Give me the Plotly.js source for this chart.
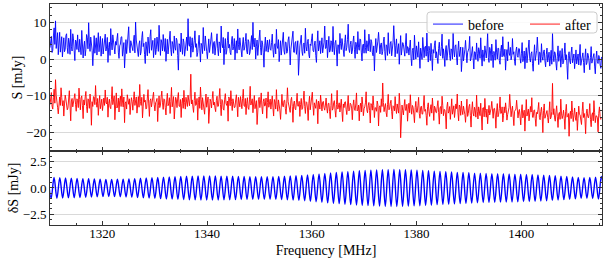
<!DOCTYPE html>
<html>
<head>
<meta charset="utf-8">
<script src="https://cdn.plot.ly/plotly-3.0.1.min.js"></script>
<style>html,body{margin:0;padding:0;background:#fff;}#chart{width:608px;height:261px;}</style>
</head>
<body>
<div id="chart"></div>
<script>
// channel frequency grid of the spectra (MHz)
const specStart = 1310.0;
const specStep = 0.1318;

const before = [
3.1,5.0,6.2,1.8,2.4,6.3,8.5,4.0,10.4,2.9,5.1,7.2,1.2,3.6,7.3,1.9,3.9,6.1,0.6,3.8,5.8,2.0,2.7,6.4,6.9,3.1,1.5,5.7,4.4,1.3,8.1,3.5,2.2,6.9,5.5,2.4,-0.4,5.2,4.8,2.6,
6.6,3.0,1.9,5.4,3.7,1.2,7.8,4.6,0.3,3.3,4.9,0.9,2.6,6.7,5.9,2.8,9.9,4.4,2.1,6.0,4.2,2.4,-1.8,4.9,6.4,1.6,3.0,5.8,1.1,3.9,7.2,2.0,4.5,6.2,0.8,3.7,5.6,1.4,2.9,4.3,
6.8,2.2,3.3,5.9,-0.9,3.1,4.6,1.0,8.3,4.4,2.5,6.6,5.2,2.3,1.4,4.8,3.8,5.5,7.0,1.9,0.2,3.6,4.1,6.0,6.1,0.8,2.8,4.5,-2.4,2.7,5.3,1.5,3.4,6.3,8.8,3.0,1.7,5.0,4.0,2.5,
2.3,4.9,6.5,1.7,10.1,5.2,3.6,2.9,0.7,4.1,5.0,1.1,2.0,5.8,7.5,3.4,4.3,1.3,-1.2,4.7,3.2,0.9,6.0,3.5,1.6,6.2,8.0,2.4,3.5,5.1,0.4,3.8,5.7,1.2,2.6,6.0,4.7,2.1,9.2,3.9,
1.0,5.3,4.4,2.2,6.7,3.8,2.1,5.6,-0.6,2.5,5.4,1.4,3.1,5.9,7.6,2.7,0.9,4.8,4.0,1.6,6.3,3.2,2.4,5.7,5.1,1.0,-3.0,4.2,3.8,2.0,7.1,3.3,1.3,5.5,4.6,0.8,2.7,4.9,6.0,2.3,
11.0,4.0,3.5,6.1,0.5,3.7,5.8,1.9,2.9,5.0,7.7,3.2,4.2,0.7,1.8,5.4,6.5,2.8,-0.8,4.3,3.6,1.5,8.6,3.9,2.3,6.3,4.9,2.0,0.1,4.6,5.5,1.8,3.0,5.2,7.2,2.6,1.5,4.4,4.8,1.1,
2.6,5.1,6.9,2.8,0.9,4.7,4.3,1.7,9.0,4.2,3.1,5.9,-1.5,2.9,5.6,1.3,2.2,5.0,7.4,3.0,4.0,1.8,1.2,4.9,6.2,2.5,3.4,5.6,-0.2,3.3,5.0,1.6,8.2,3.9,2.5,5.8,4.5,1.9,0.6,4.1,
5.9,2.4,3.0,4.8,7.0,2.2,1.4,5.3,4.7,1.2,2.0,4.4,6.4,2.6,10.0,4.0,3.3,5.7,0.0,3.5,5.2,1.0,2.8,4.6,7.9,3.1,1.1,5.0,4.1,1.7,-2.2,3.6,6.0,2.1,3.7,5.2,1.9,4.0,5.3,2.7,
2.4,4.5,6.8,2.6,0.5,3.9,4.2,1.4,8.1,3.6,2.9,5.3,-0.7,2.3,5.0,1.1,3.2,5.4,7.3,2.2,1.3,4.7,4.5,1.6,2.1,5.2,6.1,3.0,-1.6,2.7,3.9,5.1,7.6,1.9,1.8,4.4,4.8,1.3,2.7,5.0,
-4.4,1.8,3.6,4.9,6.5,2.1,1.0,4.0,4.4,1.6,8.4,3.5,2.2,4.8,5.4,1.2,0.3,4.1,3.7,5.5,6.9,2.4,2.0,3.8,4.9,1.0,-0.9,4.3,7.7,2.2,3.3,5.0,1.5,3.4,5.8,1.7,2.8,4.6,9.0,2.9,
3.0,5.2,0.4,3.3,6.2,1.9,2.3,5.0,4.6,2.0,8.9,3.6,1.2,4.4,5.1,2.5,-1.9,3.9,3.8,1.5,7.0,4.2,2.6,5.6,4.3,1.8,0.7,4.5,6.6,2.3,3.2,5.3,9.5,2.8,1.8,4.0,4.9,1.4,2.1,4.7,
6.3,2.7,0.2,4.6,3.9,1.4,7.5,3.2,2.4,5.5,5.3,1.9,-0.5,3.8,4.1,1.6,8.0,3.1,1.6,5.0,3.5,2.2,6.8,4.0,2.0,5.3,4.7,1.7,0.9,3.6,-3.2,2.5,5.6,1.8,3.0,4.9,7.3,2.6,1.4,3.9,
4.4,1.2,2.1,4.7,6.0,2.0,-0.3,3.9,3.6,1.0,7.2,2.8,1.5,4.4,4.8,0.9,2.7,4.6,9.1,2.3,0.6,3.7,5.5,1.5,3.1,4.2,-1.4,2.9,6.4,1.1,2.2,4.5,4.0,2.0,0.8,4.1,7.0,1.6,3.4,3.0,
1.1,3.2,5.2,0.6,-1.8,2.4,3.0,-0.2,6.5,2.7,0.0,3.6,2.6,0.5,4.7,1.4,-2.5,3.0,1.9,-0.1,5.9,2.1,0.4,3.3,3.5,0.8,7.1,2.0,-0.8,3.5,2.3,-0.4,4.3,1.2,-3.1,2.6,1.6,3.8,5.0,0.3,
2.0,0.4,-1.2,2.9,4.6,1.1,0.9,3.4,6.8,0.2,2.8,0.9,-2.0,2.5,3.7,-0.3,1.2,3.1,5.4,1.0,-0.4,2.8,2.5,0.0,7.4,2.2,0.6,3.6,3.9,0.5,-1.6,2.4,4.9,0.7,1.7,3.3,-3.4,1.5,3.2,-0.5,
0.8,2.6,5.1,-0.2,-1.0,1.8,2.7,3.0,6.2,-0.5,0.1,2.3,3.4,0.4,-2.7,2.0,1.9,-0.1,4.4,1.6,-0.6,3.1,2.2,0.2,5.8,1.4,-1.9,2.5,1.3,-0.6,3.6,1.0,0.3,2.8,7.0,0.5,-0.9,3.2,2.4,-0.4,
4.1,1.2,-2.3,2.1,1.5,-0.3,5.3,1.9,0.0,3.0,2.9,-0.4,-1.4,2.4,3.8,0.6,6.1,1.1,0.7,2.7,-3.0,0.8,2.6,-0.5,4.7,1.7,1.0,3.2,-0.2,0.9,5.6,1.3,2.0,-0.6,-1.7,2.2,3.3,1.0,0.5,2.9,
2.8,0.3,-1.1,1.6,4.5,-0.7,0.2,2.2,-2.6,0.9,3.1,-1.0,1.4,2.6,5.2,0.1,-0.8,1.5,2.0,-1.2,-3.3,1.1,3.9,-0.4,0.6,2.4,6.0,0.2,-1.5,1.9,1.8,-0.9,4.2,0.7,-0.3,2.0,2.5,-0.5,-2.1,1.3,
3.0,-0.8,0.1,1.9,-1.9,0.6,2.4,-1.4,7.0,1.2,-0.7,2.0,1.6,-1.1,-3.0,0.8,3.6,-0.6,0.4,2.3,-2.2,0.3,2.9,-1.3,-0.9,1.5,4.4,-0.2,1.2,-1.8,-5.5,0.9,2.0,-0.5,-1.3,1.7,3.3,-1.0,0.0,1.4,
-2.6,0.9,2.5,-1.3,0.3,1.4,-1.6,0.7,4.0,-1.7,-0.4,1.1,1.7,-0.9,-3.7,0.4,2.8,-1.5,-1.0,1.6,0.9,-0.8,-2.9,0.5,3.4,-1.1,-0.2,1.3,1.5,-1.9,-4.0,0.2,2.2,-0.7,-1.2,1.0,0.5,-1.6,-2.5,0.6
];

const after = [
-12.4,-10.2,-9.1,-12.8,-13.6,-10.5,-8.2,-12.0,-5.6,-9.9,-11.0,-13.1,-14.9,-11.2,-10.3,-12.6,-7.8,-10.4,-12.7,-11.3,-15.5,-12.2,-9.8,-10.9,-11.9,-13.8,-13.3,-10.1,-8.6,-12.5,-16.8,-11.4,-10.7,-13.0,-12.1,-10.6,-9.4,-12.3,-14.2,-10.8,
-11.3,-13.2,-7.9,-11.0,-13.8,-10.6,-10.0,-12.7,-16.2,-11.1,-12.5,-10.3,-8.8,-12.9,-14.6,-10.8,-11.1,-13.4,-9.5,-11.9,-18.0,-11.6,-12.9,-10.2,-10.4,-12.4,-7.2,-11.5,-13.1,-10.7,-15.3,-12.1,-9.9,-13.5,-11.7,-10.9,-14.0,-11.8,-10.6,-12.6,
-8.4,-11.8,-12.2,-10.4,-15.8,-12.1,-10.9,-13.0,-13.5,-10.9,-7.5,-12.4,-11.4,-10.0,-16.5,-11.7,-9.2,-13.3,-12.8,-10.6,-14.4,-11.2,-10.1,-12.9,-8.1,-11.4,-13.0,-10.3,-17.3,-12.0,-11.6,-13.6,-9.7,-11.1,-12.3,-10.8,-15.1,-12.5,-10.5,-11.6,
-13.9,-11.0,-8.9,-12.6,-11.8,-10.3,-14.7,-11.9,-10.2,-13.1,-6.9,-11.5,-12.6,-10.4,-16.0,-12.8,-9.6,-11.7,-11.2,-13.6,-13.4,-10.6,-8.3,-12.2,-15.6,-11.3,-10.8,-13.0,-12.0,-10.1,-9.0,-12.4,-14.1,-11.8,-11.5,-10.7,-17.0,-12.7,-10.0,-13.2,
-12.5,-10.3,-8.7,-11.9,-13.7,-10.8,-11.0,-13.2,-15.2,-11.4,-9.3,-12.7,-12.2,-10.5,-14.8,-11.6,-7.7,-13.0,-11.9,-10.2,-16.3,-12.3,-10.4,-11.1,-13.2,-10.6,-9.1,-12.8,-12.9,-11.0,-15.9,-12.1,-10.6,-13.4,-8.5,-11.8,-13.6,-10.4,-11.4,-12.9,
-9.8,-11.5,-12.7,-10.6,-4.1,-12.2,-11.1,-13.0,-14.5,-11.3,-9.0,-12.6,-12.4,-10.7,-16.6,-11.9,-10.3,-13.4,-7.6,-11.0,-13.8,-10.5,-11.6,-12.8,-15.0,-11.4,-9.5,-13.1,-12.1,-10.3,-17.5,-12.2,-10.9,-11.6,-13.3,-10.8,-8.8,-12.5,-11.7,-13.3,
-14.3,-11.2,-10.1,-12.9,-12.8,-10.6,-8.0,-12.4,-15.4,-11.0,-11.3,-13.6,-13.9,-10.9,-9.4,-12.1,-12.6,-11.4,-16.9,-10.3,-10.7,-12.7,-8.6,-11.6,-14.0,-10.8,-11.8,-13.2,-13.1,-11.1,-9.7,-12.5,-15.7,-10.4,-12.0,-13.0,-10.2,-11.9,-13.5,-10.7,
-8.2,-12.6,-12.9,-10.7,-15.1,-12.0,-10.5,-13.3,-13.7,-11.1,-7.4,-12.5,-11.5,-10.8,-14.6,-12.2,-9.9,-13.5,-12.3,-11.3,-17.8,-12.9,-11.0,-10.4,-13.2,-11.7,-9.2,-13.0,-14.9,-11.5,-10.8,-12.8,-12.5,-10.6,-16.1,-11.8,-8.9,-13.1,-11.9,-10.9,
-13.6,-11.4,-10.0,-13.2,-15.5,-11.0,-11.7,-13.6,-8.3,-12.4,-14.2,-11.1,-12.1,-13.9,-16.4,-11.8,-9.6,-12.7,-13.0,-11.3,-11.2,-13.5,-15.0,-12.0,-7.8,-11.6,-12.7,-13.8,-14.5,-11.2,-10.4,-12.9,-17.2,-12.1,-11.4,-13.4,-13.8,-11.7,-9.3,-12.8,
-12.8,-11.5,-15.6,-12.4,-10.7,-13.7,-13.4,-11.2,-8.7,-12.9,-14.8,-11.6,-11.8,-13.3,-16.7,-12.0,-10.1,-13.8,-12.4,-11.1,-9.0,-12.6,-15.3,-11.9,-13.1,-13.4,-11.0,-12.3,-17.6,-11.4,-12.2,-13.6,-9.8,-12.1,-14.1,-11.7,-11.5,-13.2,-13.9,-12.5,
-10.6,-13.4,-14.7,-12.1,-12.0,-14.2,-16.2,-12.6,-9.4,-13.9,-13.5,-11.8,-11.3,-14.0,-15.8,-12.4,-8.5,-13.6,-12.9,-11.9,-14.4,-12.8,-10.9,-14.3,-17.0,-12.2,-13.2,-11.7,-11.6,-13.7,-15.1,-12.5,-9.9,-14.1,-13.8,-12.0,-12.3,-13.3,-16.5,-12.7,
-11.1,-13.6,-14.0,-12.2,-9.2,-14.1,-13.7,-12.5,-16.8,-13.0,-12.0,-14.4,-10.3,-12.3,-15.4,-13.5,-13.0,-11.9,-8.9,-13.8,-14.6,-12.7,-11.8,-14.0,-17.4,-12.1,-12.6,-13.9,-10.0,-12.6,-15.9,-13.2,-13.3,-14.2,-11.4,-12.4,-18.2,-13.1,-12.7,-14.5,
-10.8,-12.9,-6.5,-11.8,-14.3,-13.0,-12.1,-14.6,-15.7,-12.4,-9.6,-13.8,-13.6,-12.0,-11.2,-14.3,-16.3,-12.7,-12.9,-14.1,-10.2,-13.3,-14.8,-12.2,-13.4,-14.7,-9.3,-12.6,-21.4,-13.5,-12.5,-14.0,-15.2,-12.8,-11.0,-13.9,-14.0,-12.3,-16.9,-13.6,
-12.0,-14.6,-9.7,-13.0,-15.0,-12.6,-13.1,-14.9,-17.3,-13.2,-11.5,-14.4,-14.5,-12.7,-10.4,-14.8,-16.1,-13.1,-12.8,-15.0,-14.9,-12.5,-9.9,-14.2,-13.7,-15.3,-18.0,-12.9,-11.9,-14.3,-15.6,-13.6,-12.4,-14.7,-10.6,-13.4,-16.7,-12.8,-13.3,-14.5,
-14.6,-12.8,-11.3,-14.5,-17.7,-13.3,-12.9,-14.9,-10.1,-12.6,-15.4,-13.7,-13.8,-15.2,-19.0,-13.0,-11.7,-14.7,-14.2,-12.9,-16.4,-13.8,-10.8,-15.0,-13.5,-12.7,-15.9,-14.1,-12.2,-13.5,-9.5,-14.6,-16.8,-12.5,-13.0,-15.3,-11.4,-13.9,-15.1,-12.8,
-13.6,-15.1,-17.2,-13.2,-10.9,-15.6,-14.8,-12.9,-12.3,-15.3,-18.5,-13.8,-11.6,-14.7,-15.5,-13.1,-13.9,-15.8,-9.8,-14.2,-16.3,-13.0,-14.1,-15.4,-12.0,-14.5,-19.3,-13.3,-13.2,-15.7,-10.7,-14.0,-15.8,-13.6,-17.6,-14.8,-12.6,-15.2,-14.4,-13.4,
-11.5,-14.9,-16.1,-13.5,-13.4,-15.2,-18.8,-14.1,-12.1,-15.7,-15.0,-13.4,-10.3,-14.8,-14.7,-13.0,-17.1,-15.3,-13.0,-14.6,-11.9,-13.7,-16.6,-15.1,-14.3,-13.2,-9.6,-14.4,-15.7,-13.9,-12.8,-15.5,-18.1,-14.2,-14.0,-13.6,-11.2,-15.0,-16.0,-14.3,
-13.7,-15.6,-17.9,-14.1,-12.4,-16.0,-15.3,-13.9,-19.6,-14.8,-11.0,-15.5,-14.6,-13.6,-16.8,-15.2,-12.9,-14.4,-10.5,-15.8,-15.9,-14.0,-13.8,-16.2,-18.3,-14.5,-14.9,-13.7,-11.8,-15.9,-16.5,-14.3,-13.1,-15.4,-20.0,-14.0,-12.2,-16.1,-15.4,-14.6,
-14.0,-15.9,-17.4,-14.6,-11.6,-16.3,-15.8,-14.2,-6.6,-15.1,-13.5,-16.0,-16.9,-14.4,-12.7,-15.7,-18.6,-14.9,-14.5,-16.4,-10.9,-14.7,-16.2,-15.3,-13.9,-16.1,-19.1,-14.3,-12.3,-15.8,-15.6,-14.8,-21.0,-15.5,-14.2,-16.2,-11.4,-14.5,-17.0,-15.2,
-13.3,-15.8,-16.7,-14.4,-19.4,-16.1,-12.8,-15.0,-15.2,-16.6,-17.8,-14.2,-11.7,-15.9,-14.8,-16.3,-20.3,-14.7,-13.6,-15.6,-16.0,-14.9,-12.1,-16.5,-18.4,-15.2,-14.6,-16.8,-11.3,-14.6,-17.3,-15.4,-15.5,-16.0,-19.8,-14.8,-13.0,-15.7,-16.4,-16.2
];

// ripple difference: extrema, on a half-period grid (MHz)
const dsStart = 1309.67;
const dsStep = 0.55;
const deltaS = [
1.0,-1.0,1.0,-0.99,0.98,-0.97,0.96,-0.95,0.94,-0.93,
0.92,-0.91,0.9,-0.89,0.88,-0.87,0.86,-0.85,0.84,-0.83,
0.82,-0.82,0.82,-0.83,0.84,-0.84,0.85,-0.86,0.87,-0.88,
0.9,-0.91,0.93,-0.94,0.96,-0.97,0.98,-0.99,1.0,-1.02,
1.04,-1.05,1.06,-1.07,1.08,-1.09,1.1,-1.11,1.12,-1.13,
1.14,-1.14,1.15,-1.15,1.15,-1.15,1.15,-1.15,1.15,-1.15,
1.14,-1.14,1.13,-1.13,1.12,-1.12,1.11,-1.11,1.1,-1.1,
1.09,-1.09,1.08,-1.08,1.08,-1.08,1.08,-1.08,1.09,-1.09,
1.1,-1.11,1.12,-1.13,1.15,-1.16,1.18,-1.19,1.21,-1.22,
1.25,-1.27,1.3,-1.32,1.35,-1.37,1.4,-1.42,1.44,-1.46,
1.48,-1.5,1.53,-1.55,1.57,-1.59,1.61,-1.63,1.65,-1.66,
1.68,-1.69,1.71,-1.72,1.73,-1.74,1.75,-1.76,1.76,-1.77,
1.77,-1.77,1.76,-1.76,1.75,-1.74,1.73,-1.72,1.71,-1.7,
1.68,-1.67,1.65,-1.64,1.62,-1.6,1.59,-1.57,1.56,-1.55,
1.53,-1.52,1.5,-1.49,1.48,-1.47,1.46,-1.45,1.43,-1.42,
1.41,-1.4,1.4,-1.39,1.38,-1.38,1.37,-1.36,1.36,-1.35,
1.34,-1.34,1.33,-1.32,1.32,-1.31,1.3,-1.3,1.29,-1.28,
1.26,-1.25,1.23,-1.22,1.2,-1.19,1.17,-1.15,1.14,-1.12,
1.1,-1.08,1.06,-1.04,1.02,-1.0,0.99,-0.99,1.0,-1.01,
1.04,-1.06,1.1,-1.12
];

const seriesNames = ["before", "after"];
const yTicksTop = [-20, -10, 0, 10];
const yTicksBottom = [-2.5, 0, 2.5];
const xTicks = [1320, 1340, 1360, 1380, 1400];

const freq = before.map((_, i) => specStart + i * specStep);
const dsFreq = deltaS.map((_, i) => dsStart + i * dsStep);

const FONT = "Liberation Serif, Times New Roman, serif";
const AX = "#333333";
const GRID = "#d9d9d9";

const traces = [
  {x: freq, y: before, name: seriesNames[0], type: "scatter", mode: "lines", legendwidth: 52,
   line: {color: "#0000ff", width: 0.9}, xaxis: "x2", yaxis: "y"},
  {x: freq, y: after, name: seriesNames[1], type: "scatter", mode: "lines", legendwidth: 30,
   line: {color: "#ff0000", width: 0.9}, xaxis: "x2", yaxis: "y"},
  {x: dsFreq, y: deltaS, name: "δS", type: "scatter", mode: "lines", showlegend: false,
   line: {color: "#0000ff", width: 1.4, shape: "spline", smoothing: 1}, xaxis: "x", yaxis: "y2"}
];

// rounded legend frame (paper coords)
function roundedRect(x0, y0, x1, y1, rx, ry) {
  return `M${x0 + rx},${y0} L${x1 - rx},${y0} Q${x1},${y0} ${x1},${y0 + ry} L${x1},${y1 - ry} Q${x1},${y1} ${x1 - rx},${y1} ` +
         `L${x0 + rx},${y1} Q${x0},${y1} ${x0},${y1 - ry} L${x0},${y0 + ry} Q${x0},${y0} ${x0 + rx},${y0} Z`;
}

const xRange = [1310, 1415.4];
const commonX = {
  range: xRange, tickvals: xTicks, ticks: "inside", ticklen: 4, tickwidth: 1, tickcolor: AX,
  showline: true, linecolor: AX, linewidth: 1, mirror: "allticks", showgrid: false, zeroline: false,
  minor: {dtick: 5, tick0: 1310, ticks: "inside", ticklen: 2, tickcolor: AX, showgrid: false}
};

const layout = {
  width: 608, height: 261,
  margin: {l: 50, r: 6, t: 4, b: 36},
  paper_bgcolor: "#fff", plot_bgcolor: "#fff",
  font: {family: FONT, size: 13, color: "#000"},
  showlegend: true,
  legend: {
    orientation: "h", x: 0.6848, xanchor: "left", y: 0.9797, yanchor: "top",
    bgcolor: "rgba(0,0,0,0)", borderwidth: 0,
    font: {family: FONT, size: 14, color: "#000"}, itemwidth: 30
  },
  shapes: [{
    type: "path", xref: "paper", yref: "paper", layer: "above",
    path: roundedRect(0.683, 0.8688, 0.991, 0.9638, 0.006, 0.014),
    fillcolor: "rgba(255,255,255,0.85)", line: {color: "#cccccc", width: 1}
  }],
  xaxis: Object.assign({}, commonX, {
    anchor: "y2", domain: [0, 1], ticklabelstandoff: -4,
    title: {text: "Frequency [MHz]", font: {family: FONT, size: 14}, standoff: 5},
    tickfont: {family: FONT, size: 13}
  }),
  xaxis2: Object.assign({}, commonX, {
    anchor: "y", domain: [0, 1], matches: "x", showticklabels: false
  }),
  yaxis: {
    domain: [0.335, 1], anchor: "x2", range: [-25, 15], tickvals: yTicksTop,
    ticks: "inside", ticklen: 4, tickcolor: AX, showline: true, linecolor: AX, linewidth: 1,
    mirror: "allticks", showgrid: true, gridcolor: GRID, gridwidth: 1, zeroline: false,
    minor: {dtick: 2, ticks: "inside", ticklen: 2, tickcolor: AX, showgrid: false},
    title: {text: "S [mJy]", font: {family: FONT, size: 14}, standoff: 0},
    tickfont: {family: FONT, size: 13}
  },
  yaxis2: {
    domain: [0, 0.335], anchor: "x", range: [-3.55, 3.55], tickvals: yTicksBottom,
    tickformat: ".1f",
    ticks: "inside", ticklen: 4, tickcolor: AX, showline: true, linecolor: AX, linewidth: 1,
    mirror: "allticks", showgrid: true, gridcolor: GRID, gridwidth: 1, zeroline: false,
    minor: {dtick: 0.5, tick0: 0, ticks: "inside", ticklen: 2, tickcolor: AX, showgrid: false},
    title: {text: "δS [mJy]", font: {family: FONT, size: 14}, standoff: 0},
    tickfont: {family: FONT, size: 13}
  }
};

Plotly.newPlot("chart", traces, layout, {displayModeBar: false, staticPlot: true});
</script>
</body>
</html>
